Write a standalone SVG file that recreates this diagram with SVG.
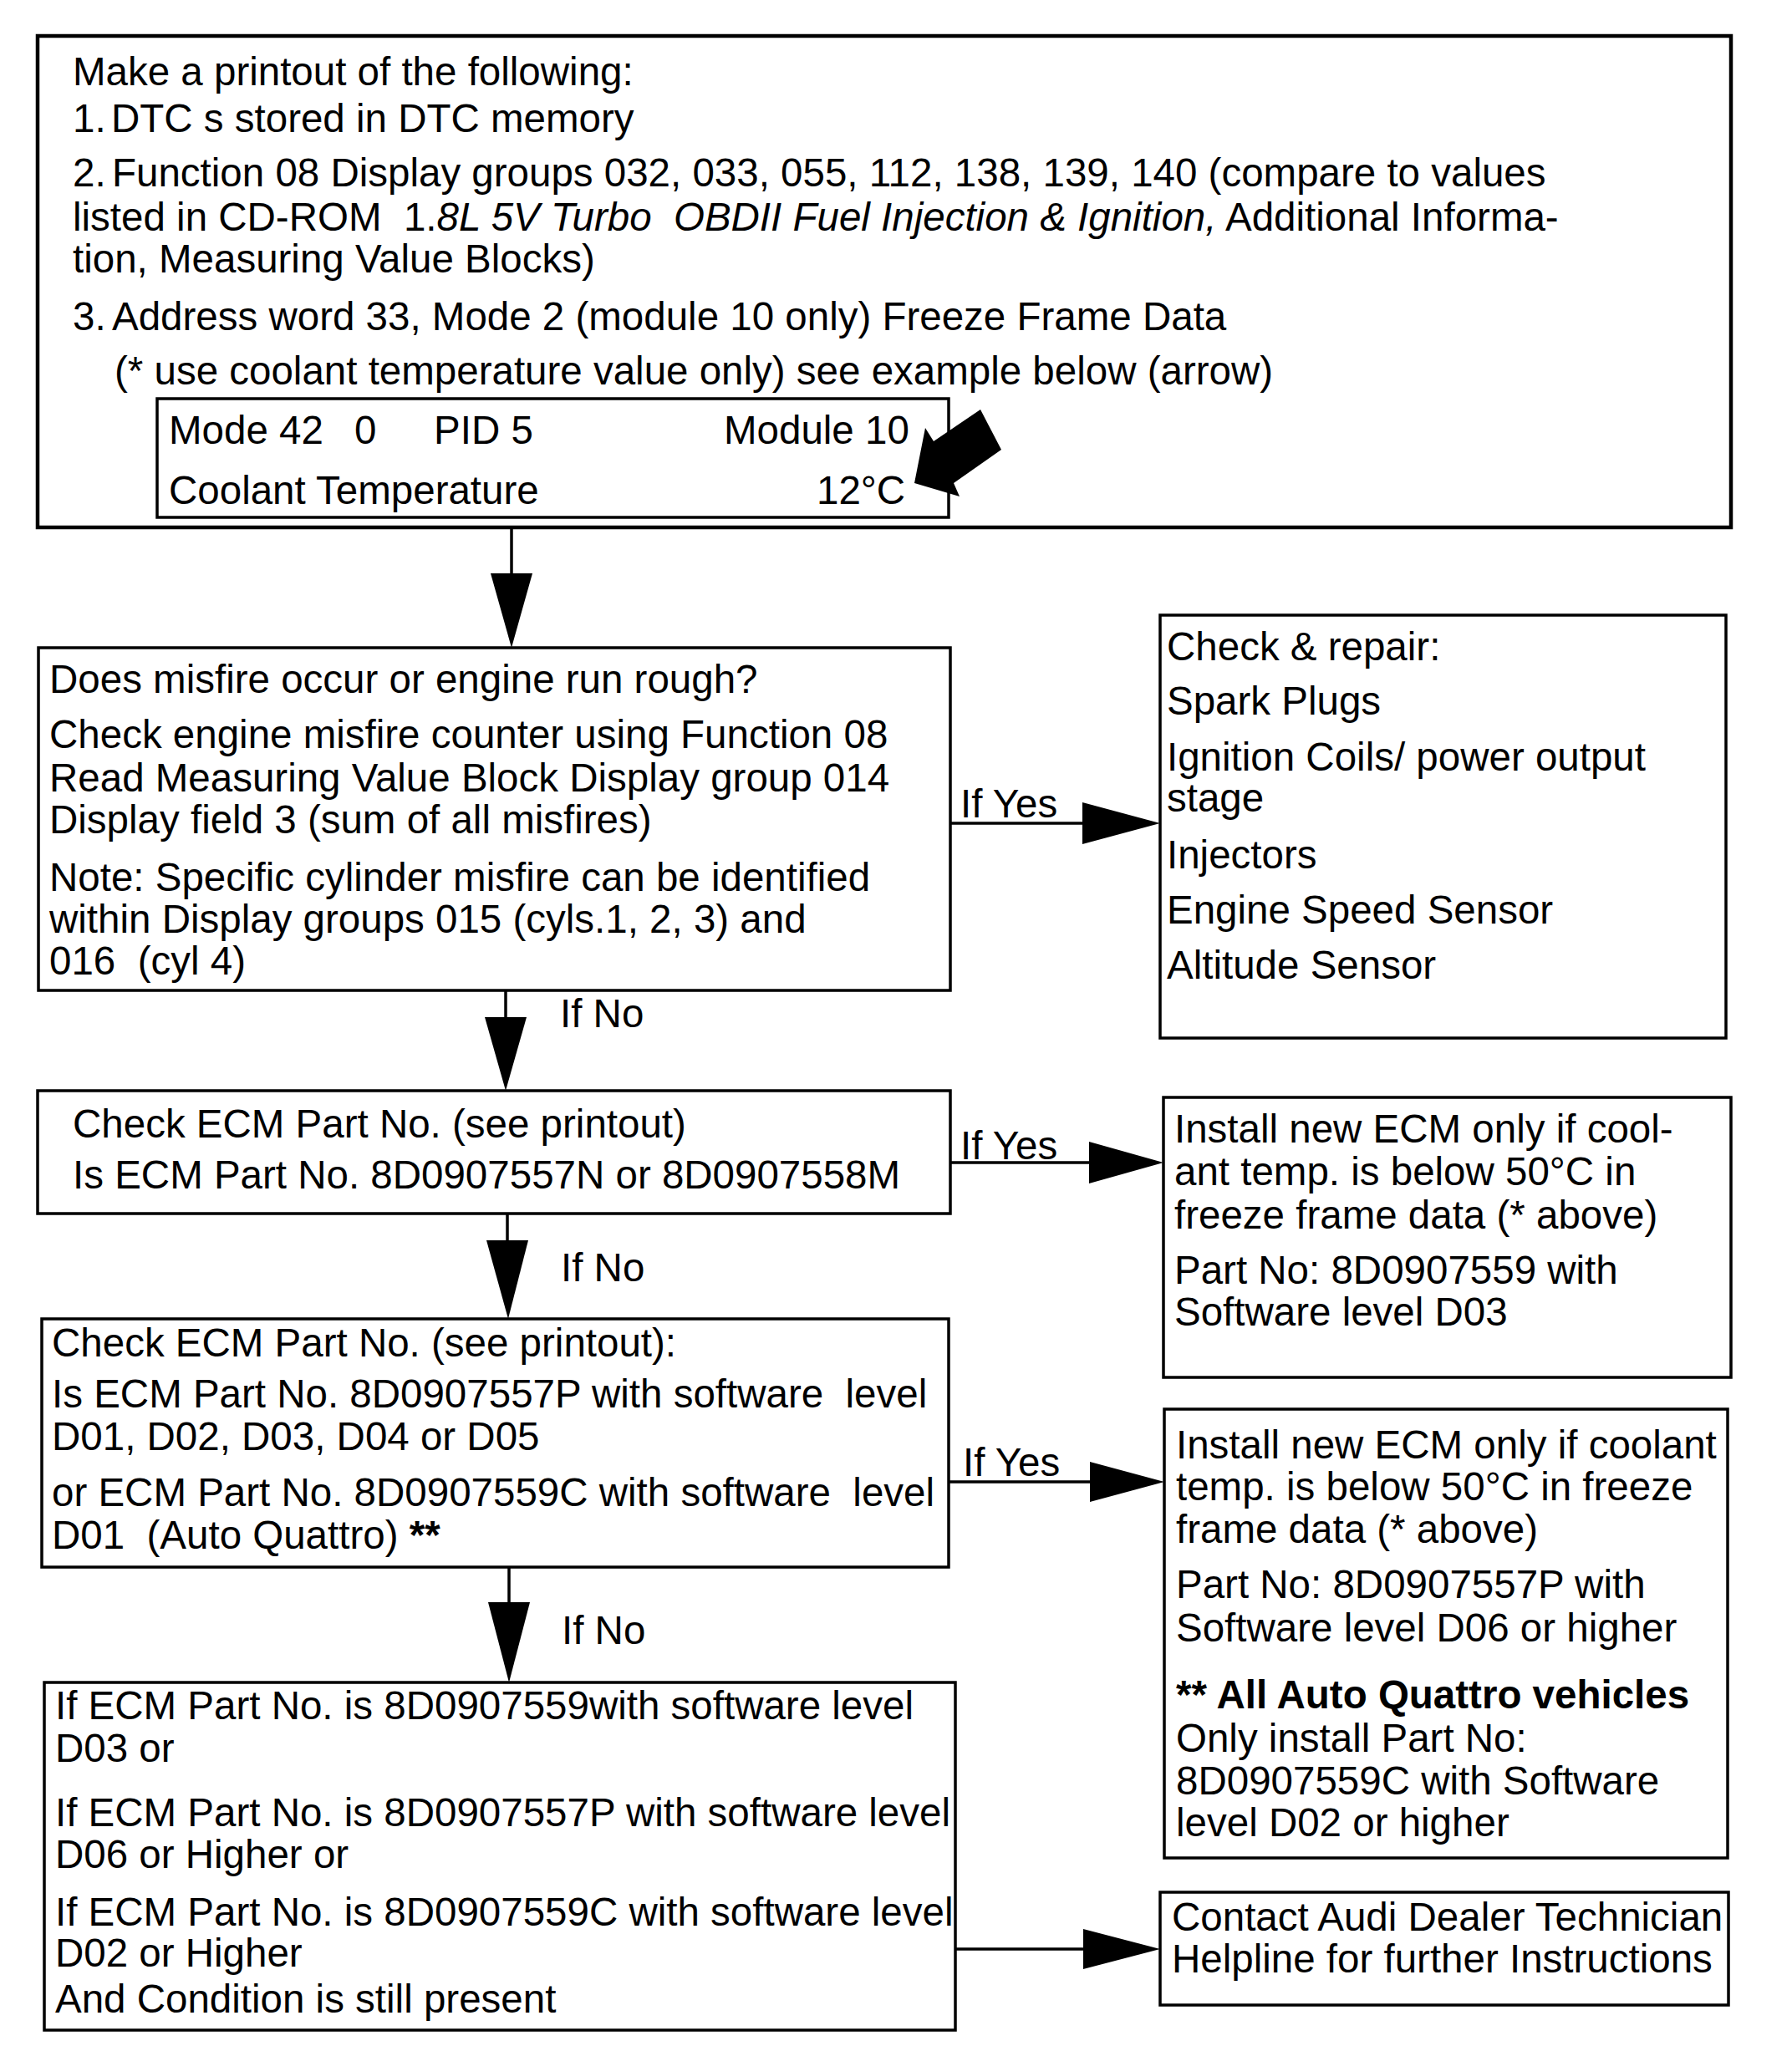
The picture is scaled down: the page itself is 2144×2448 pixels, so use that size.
<svg xmlns="http://www.w3.org/2000/svg" width="2144" height="2448" viewBox="0 0 2144 2448">
<style>
text { font-family: "Liberation Sans", Arial, Helvetica, sans-serif; font-size: 47.5px; fill: #000; white-space: pre; }
.box { fill: #fff; stroke: #000; stroke-width: 3.5; }
.thick { stroke-width: 4.5; }
.line { stroke: #000; stroke-width: 3.5; fill: none; }
.head { fill: #000; stroke: none; }
.it { font-style: italic; }
.b { font-weight: bold; }
</style>
<rect x="0" y="0" width="2144" height="2448" fill="#fff"/>

<g id="connectors">
  <line class="line" x1="612" y1="631" x2="612" y2="690"/>
  <polygon class="head" points="587,686 637,686 612,775"/>
  <line class="line" x1="1137" y1="985" x2="1300" y2="985"/>
  <polygon class="head" points="1295,960 1295,1010 1388,985"/>
  <line class="line" x1="605" y1="1185" x2="605" y2="1221"/>
  <polygon class="head" points="580,1217 630,1217 605,1305"/>
  <line class="line" x1="1137" y1="1391" x2="1308" y2="1391"/>
  <polygon class="head" points="1303,1366 1303,1416 1392,1391"/>
  <line class="line" x1="607" y1="1452" x2="607" y2="1488"/>
  <polygon class="head" points="582,1484 632,1484 608,1578"/>
  <line class="line" x1="1135" y1="1773" x2="1308" y2="1773"/>
  <polygon class="head" points="1304,1749 1304,1797 1393,1773"/>
  <line class="line" x1="609" y1="1875" x2="609" y2="1921"/>
  <polygon class="head" points="584,1917 634,1917 609,2013"/>
  <line class="line" x1="1143" y1="2332" x2="1300" y2="2332"/>
  <polygon class="head" points="1296,2308 1296,2356 1388,2332"/>
  <text x="1149" y="978">If Yes</text>
  <text x="1149" y="1387">If Yes</text>
  <text x="1152" y="1766">If Yes</text>
  <text x="670" y="1229">If No</text>
  <text x="671" y="1533">If No</text>
  <text x="672" y="1967">If No</text>
</g>

<g id="node-printout">
  <rect class="box thick" x="45" y="43" width="2026" height="588"/>
  <text x="87" y="102">Make a printout of the following:</text>
  <text x="87" y="158">1.<tspan x="133">DTC s stored in DTC memory</tspan></text>
  <text x="87" y="223">2.<tspan x="134">Function 08 Display groups 032, 033, 055, 112, 138, 139, 140 (compare to values</tspan></text>
  <text x="87" y="276">listed in CD-ROM  1.<tspan class="it">8L 5V Turbo  OBDII Fuel Injection &amp; Ignition,</tspan> Additional Informa-</text>
  <text x="87" y="326">tion, Measuring Value Blocks)</text>
  <text x="87" y="395">3.<tspan x="134">Address word 33, Mode 2 (module 10 only) Freeze Frame Data</tspan></text>
  <text x="137" y="460">(* use coolant temperature value only) see example below (arrow)</text>
  <rect class="box" x="188" y="477" width="947" height="142"/>
  <text y="531"><tspan x="202">Mode 42</tspan><tspan x="424">0</tspan><tspan x="519">PID 5</tspan><tspan x="866">Module 10</tspan></text>
  <text y="603"><tspan x="202">Coolant Temperature</tspan><tspan x="977">12°C</tspan></text>
  <polygon class="head" points="1173,490 1198,538 1141,578 1148,594 1094,578 1107,512 1117,528"/>
</g>

<g id="node-misfire">
  <rect class="box" x="46" y="775" width="1091" height="410"/>
  <text x="59" y="829">Does misfire occur or engine run rough?</text>
  <text x="59" y="895">Check engine misfire counter using Function 08</text>
  <text x="59" y="947">Read Measuring Value Block Display group 014</text>
  <text x="59" y="997">Display field 3 (sum of all misfires)</text>
  <text x="59" y="1066">Note: Specific cylinder misfire can be identified</text>
  <text x="59" y="1116">within Display groups 015 (cyls.1, 2, 3) and</text>
  <text x="59" y="1166">016  (cyl 4)</text>
</g>

<g id="node-repair">
  <rect class="box" x="1388" y="736" width="677" height="506"/>
  <text x="1396" y="790">Check &amp; repair:</text>
  <text x="1396" y="855">Spark Plugs</text>
  <text x="1396" y="922">Ignition Coils/ power output</text>
  <text x="1396" y="971">stage</text>
  <text x="1396" y="1039">Injectors</text>
  <text x="1396" y="1105">Engine Speed Sensor</text>
  <text x="1396" y="1171">Altitude Sensor</text>
</g>

<g id="node-ecm-n-m">
  <rect class="box" x="45" y="1305" width="1092" height="147"/>
  <text x="87" y="1361">Check ECM Part No. (see printout)</text>
  <text x="87" y="1422">Is ECM Part No. 8D0907557N or 8D0907558M</text>
</g>

<g id="node-install-d03">
  <rect class="box" x="1392" y="1313" width="679" height="335"/>
  <text x="1405" y="1367">Install new ECM only if cool-</text>
  <text x="1405" y="1418">ant temp. is below 50°C in</text>
  <text x="1405" y="1470">freeze frame data (* above)</text>
  <text x="1405" y="1536">Part No: 8D0907559 with</text>
  <text x="1405" y="1586">Software level D03</text>
</g>

<g id="node-ecm-p-c">
  <rect class="box" x="50" y="1578" width="1085" height="297"/>
  <text x="62" y="1623">Check ECM Part No. (see printout):</text>
  <text x="62" y="1684">Is ECM Part No. 8D0907557P with software  level</text>
  <text x="62" y="1735">D01, D02, D03, D04 or D05</text>
  <text x="62" y="1802">or ECM Part No. 8D0907559C with software  level</text>
  <text x="62" y="1853">D01  (Auto Quattro) <tspan class="b">**</tspan></text>
</g>

<g id="node-install-d06">
  <rect class="box" x="1393" y="1686" width="674" height="537"/>
  <text x="1407" y="1745">Install new ECM only if coolant</text>
  <text x="1407" y="1795">temp. is below 50°C in freeze</text>
  <text x="1407" y="1846">frame data (* above)</text>
  <text x="1407" y="1912">Part No: 8D0907557P with</text>
  <text x="1407" y="1964">Software level D06 or higher</text>
  <text x="1407" y="2044" class="b">** All Auto Quattro vehicles</text>
  <text x="1407" y="2096">Only install Part No:</text>
  <text x="1407" y="2147">8D0907559C with Software</text>
  <text x="1407" y="2197">level D02 or higher</text>
</g>

<g id="node-still-present">
  <rect class="box" x="53" y="2013" width="1090" height="416"/>
  <text x="66" y="2057">If ECM Part No. is 8D0907559with software level</text>
  <text x="66" y="2108">D03 or</text>
  <text x="66" y="2185">If ECM Part No. is 8D0907557P with software level</text>
  <text x="66" y="2235">D06 or Higher or</text>
  <text x="66" y="2304">If ECM Part No. is 8D0907559C with software level</text>
  <text x="66" y="2353">D02 or Higher</text>
  <text x="66" y="2408">And Condition is still present</text>
</g>

<g id="node-helpline">
  <rect class="box" x="1388" y="2264" width="680" height="135"/>
  <text x="1402" y="2310">Contact Audi Dealer Technician</text>
  <text x="1402" y="2360">Helpline for further Instructions</text>
</g>
</svg>
